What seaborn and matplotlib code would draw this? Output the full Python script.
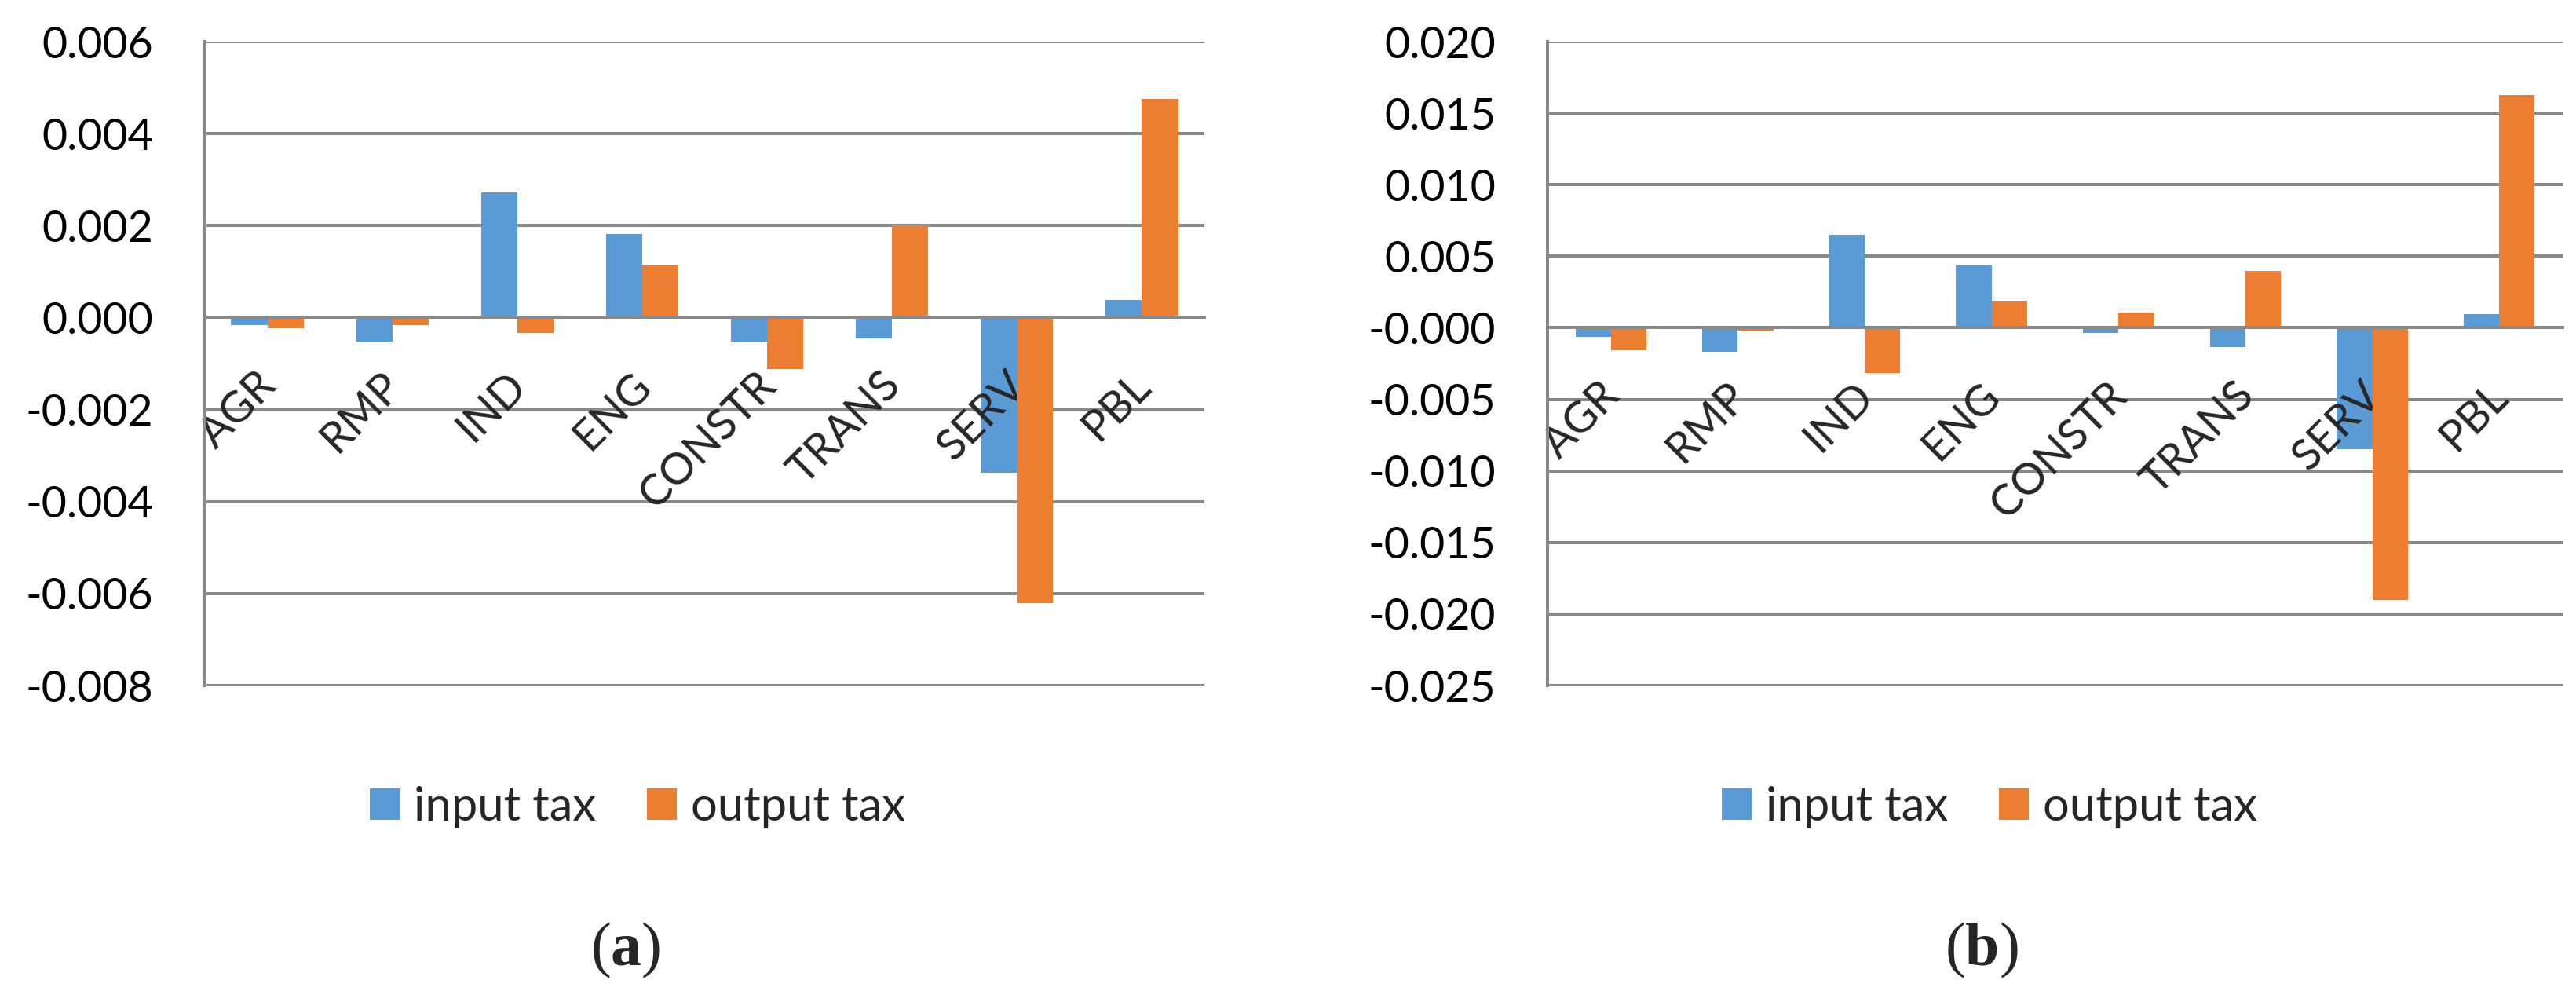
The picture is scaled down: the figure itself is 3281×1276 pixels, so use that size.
import matplotlib
matplotlib.use("Agg")
import matplotlib.pyplot as plt
import matplotlib.transforms as mtransforms
from matplotlib.ticker import FixedLocator, FormatStrFormatter, MultipleLocator
import pandas as pd
import seaborn as sns


SECTORS = ["AGR", "RMP", "IND", "ENG", "CONSTR", "TRANS", "SERV", "PBL"]
SERIES = ["input tax", "output tax"]

# panel (a)
A_INPUT = [-0.00017, -0.00053, 0.00272, 0.00181, -0.00052, -0.00046, -0.00338, 0.00038]
A_OUTPUT = [-0.00024, -0.00017, -0.00034, 0.00115, -0.00112, 0.00200, -0.00621, 0.00476]
# panel (b)
B_INPUT = [-0.00062, -0.00167, 0.00652, 0.00438, -0.00038, -0.00134, -0.00848, 0.00095]
B_OUTPUT = [-0.00157, -0.00022, -0.00315, 0.00190, 0.00108, 0.00400, -0.01900, 0.01629]

A_YLIM = (-0.008, 0.006, 0.002)
B_YLIM = (-0.025, 0.020, 0.005)
PANEL_LABELS = ["a", "b"]

BLUE = "#5B9BD5"
ORANGE = "#ED7D31"
GRID = "#898989"
PX = 72 / 100  # points per pixel at dpi 100


def to_long(inp: list[float], out: list[float]) -> pd.DataFrame:
    rows = []
    for sector, v in zip(SECTORS, inp):
        rows.append({"sector": sector, "series": SERIES[0], "value": v})
    for sector, v in zip(SECTORS, out):
        rows.append({"sector": sector, "series": SERIES[1], "value": v})
    return pd.DataFrame(rows)


def draw_panel(ax, df: pd.DataFrame, ylim: tuple[float, float, float], width: float) -> None:
    sns.barplot(
        data=df, x="sector", y="value", hue="series", order=SECTORS, hue_order=SERIES,
        palette=[BLUE, ORANGE], saturation=1, width=width, linewidth=0, ax=ax,
    )
    lo, hi, step = ylim
    ax.set_ylim(lo, hi)
    ax.set_xlim(-0.5, len(SECTORS) - 0.5)
    ax.yaxis.set_major_locator(MultipleLocator(step))
    ax.yaxis.set_major_formatter(FormatStrFormatter("%.3f"))
    ax.set_xlabel("")
    ax.set_ylabel("")

    ax.grid(axis="y", color=GRID, linewidth=4 * PX)
    ax.grid(axis="x", visible=False)
    ax.set_axisbelow(True)

    # excel draws the category labels over the first series but under the second
    for bar in ax.containers[0]:
        bar.set_zorder(1)
    for bar in ax.containers[1]:
        bar.set_zorder(3)
    ax.xaxis.set_zorder(2)

    for side in ("top", "right"):
        ax.spines[side].set_visible(False)
    ax.spines["left"].set_color(GRID)
    ax.spines["left"].set_linewidth(4 * PX)
    ax.spines["bottom"].set_position(("data", 0))
    ax.spines["bottom"].set_color(GRID)
    ax.spines["bottom"].set_linewidth(4 * PX)
    ax.spines["bottom"].set_zorder(4)

    ax.tick_params(axis="y", direction="out", length=23 * PX, width=4 * PX, color=GRID,
                   pad=43 * PX, labelsize=40, labelcolor="black")
    ax.xaxis.set_minor_locator(FixedLocator([i - 0.5 for i in range(len(SECTORS) + 1)]))
    ax.tick_params(axis="x", which="minor", direction="out", length=21 * PX, width=4 * PX, color=GRID)
    ax.tick_params(axis="x", which="major", length=0, pad=89 * PX, labelsize=40)

    shift = mtransforms.ScaledTranslation(14 / 100, 0, ax.figure.dpi_scale_trans)
    for lab in ax.get_xticklabels():
        lab.set_rotation(45)
        lab.set_rotation_mode("anchor")
        lab.set_ha("right")
        lab.set_va("baseline")
        lab.set_transform(lab.get_transform() + shift)


def main() -> None:
    sns.set_style("white")
    plt.rcParams["font.family"] = ["Lato", "DejaVu Sans"]
    plt.rcParams["axes.unicode_minus"] = False
    plt.rcParams["mathtext.fontset"] = "custom"
    plt.rcParams["mathtext.rm"] = "Liberation Serif"
    plt.rcParams["mathtext.bf"] = "Liberation Serif:bold"

    W, H = 3281, 1276
    fig = plt.figure(figsize=(W / 100, H / 100), dpi=100)
    ax_a = fig.add_axes([261 / W, 1 - 873 / H, (1534 - 261) / W, (873 - 53) / H])
    ax_b = fig.add_axes([1971 / W, 1 - 873 / H, (3264 - 1971) / W, (873 - 53) / H])

    draw_panel(ax_a, to_long(A_INPUT, A_OUTPUT), A_YLIM, 0.58)
    draw_panel(ax_b, to_long(B_INPUT, B_OUTPUT), B_YLIM, 0.56)

    for ax, cx, tag, tx in [(ax_a, 812, PANEL_LABELS[0], 797), (ax_b, 2534, PANEL_LABELS[1], 2524)]:
        leg = ax.get_legend()
        handles = leg.legend_handles
        labels = [t.get_text() for t in leg.texts]
        leg.remove()
        fig.legend(
            handles, labels, loc="center", bbox_to_anchor=(cx / W, 1 - 1028 / H),
            ncol=2, frameon=False, fontsize=43, handlelength=0.63, handleheight=0.63,
            handletextpad=0.3, columnspacing=1.1,
        )
        fig.text(tx / W, 1 - 1210 / H, r"($\mathbf{" + tag + r"}$)", ha="center", va="center",
                 fontsize=56, family="Liberation Serif")

    fig.savefig("out.png", dpi=100)


if __name__ == "__main__":
    main()
